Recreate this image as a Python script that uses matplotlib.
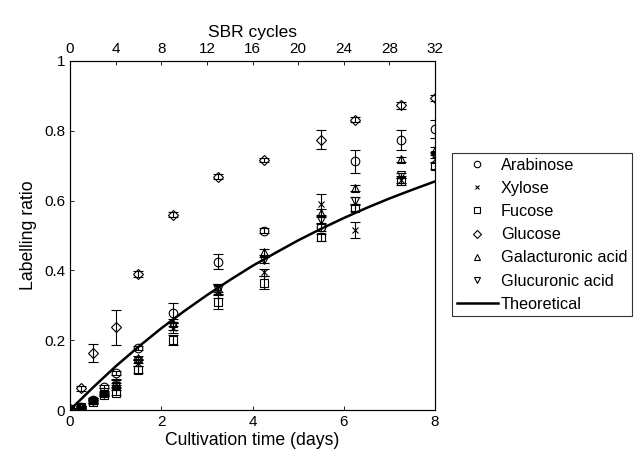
import matplotlib
matplotlib.use('Agg')
import matplotlib.pyplot as plt
import numpy as np

plt.rcParams['font.family'] = ['Liberation Sans', 'DejaVu Sans']

# sampling times (days)
t = [0, 0.25, 0.5, 0.75, 1, 1.5, 2.25, 3.25, 4.25, 5.5, 6.25, 7.25, 8]

arabinose = [0.003, 0.008, 0.030, 0.067, 0.106, 0.177, 0.279, 0.425, 0.514, 0.525, 0.713, 0.773, 0.804]
arabinose_err = [0.003, 0.004, 0.005, 0.005, 0.006, 0.006, 0.028, 0.021, 0.008, 0.012, 0.033, 0.029, 0.026]

xylose = [0.002, 0.008, 0.025, 0.045, 0.075, 0.135, 0.235, 0.340, 0.395, 0.590, 0.516, 0.660, 0.720]
xylose_err = [0.003, 0.003, 0.006, 0.005, 0.010, 0.008, 0.015, 0.020, 0.010, 0.030, 0.022, 0.010, 0.012]

fucose = [0.002, 0.006, 0.022, 0.043, 0.050, 0.115, 0.200, 0.310, 0.365, 0.495, 0.578, 0.655, 0.700]
fucose_err = [0.003, 0.003, 0.006, 0.004, 0.006, 0.010, 0.015, 0.020, 0.018, 0.010, 0.008, 0.010, 0.010]

glucose = [0.003, 0.062, 0.163, np.nan, 0.237, 0.389, 0.560, 0.669, 0.716, 0.775, 0.832, 0.873, 0.894]
glucose_err = [0.003, 0.008, 0.025, np.nan, 0.050, 0.008, 0.008, 0.008, 0.006, 0.028, 0.008, 0.010, 0.008]

galacturonic = [0.003, 0.008, 0.028, 0.050, 0.080, 0.148, 0.250, 0.350, 0.452, 0.565, 0.636, 0.718, 0.745]
galacturonic_err = [0.003, 0.003, 0.005, 0.004, 0.008, 0.006, 0.010, 0.012, 0.008, 0.012, 0.008, 0.006, 0.008]

glucuronic = [0.003, 0.008, 0.025, 0.047, 0.070, 0.140, 0.240, 0.345, 0.430, 0.545, 0.600, 0.672, 0.730]
glucuronic_err = [0.003, 0.003, 0.005, 0.004, 0.008, 0.006, 0.010, 0.012, 0.008, 0.012, 0.010, 0.008, 0.008]

# theoretical curve
t_theo = [0, 0.5, 1, 1.5, 2, 2.5, 3, 3.5, 4, 4.5, 5, 5.5, 6, 6.5, 7, 7.5, 8]
theo = [0, 0.064, 0.125, 0.181, 0.234, 0.283, 0.329, 0.372, 0.413, 0.450,
        0.486, 0.519, 0.550, 0.579, 0.606, 0.631, 0.655]

series = [
    ('Arabinose', arabinose, arabinose_err, 'o'),
    ('Xylose', xylose, xylose_err, 'x'),
    ('Fucose', fucose, fucose_err, 's'),
    ('Glucose', glucose, glucose_err, 'D'),
    ('Galacturonic acid', galacturonic, galacturonic_err, '^'),
    ('Glucuronic acid', glucuronic, glucuronic_err, 'v'),
]

fig = plt.figure(figsize=(6.4, 4.65), dpi=100)
ax = fig.add_axes([70/640, 55/465, 365/640, 349/465])

handles = []
for name, y, err, mk in series:
    ms = 5.2 if mk == 'D' else (4.2 if mk == 'x' else 6.2)
    ax.errorbar(t, y, yerr=err, fmt='none', ecolor='black', elinewidth=0.8,
                capsize=3.4, capthick=0.8)
    ax.plot(t, y, linestyle='none', marker=mk, markersize=ms,
            markerfacecolor='none', markeredgecolor='black',
            markeredgewidth=0.8)
    # smaller markers in the legend, as in the original
    h, = ax.plot([], [], linestyle='none', marker=mk, markersize=ms * 0.75,
                 markerfacecolor='none', markeredgecolor='black',
                 markeredgewidth=0.8, label=name)
    handles.append(h)

h_theo, = ax.plot(t_theo, theo, color='black', linewidth=1.8, label='Theoretical')
handles.append(h_theo)

ax.set_xlim(0, 8)
ax.set_ylim(0, 1)
ax.set_xticks([0, 2, 4, 6, 8])
ax.set_yticks([0, 0.2, 0.4, 0.6, 0.8, 1])
ax.set_yticklabels(['0', '0.2', '0.4', '0.6', '0.8', '1'])
ax.tick_params(direction='in', labelsize=11, length=3, width=0.6,
               top=False, right=False)
ax.set_xlabel('Cultivation time (days)', fontsize=12.7, labelpad=2)
ax.set_ylabel('Labelling ratio', fontsize=12.7, labelpad=5)
for s in ax.spines.values():
    s.set_linewidth(0.8)
    s.set_color('#333333')

ax_top = ax.twiny()
ax_top.set_xlim(0, 32)
ax_top.set_xticks(np.arange(0, 33, 4))
ax_top.tick_params(direction='in', labelsize=11, length=3, width=0.6)
ax_top.set_xlabel('SBR cycles', fontsize=12.5, labelpad=4)

leg = ax.legend(handles=handles, loc='upper left', bbox_to_anchor=(452/640, 312/465),
                bbox_transform=fig.transFigure, borderaxespad=0, fontsize=11.7,
                frameon=True, fancybox=False, edgecolor='black',
                handlelength=2.5, labelspacing=0.5, handletextpad=0.2,
                borderpad=0.3)
leg.get_frame().set_linewidth(0.8)

fig.savefig('out.png', dpi=100)
